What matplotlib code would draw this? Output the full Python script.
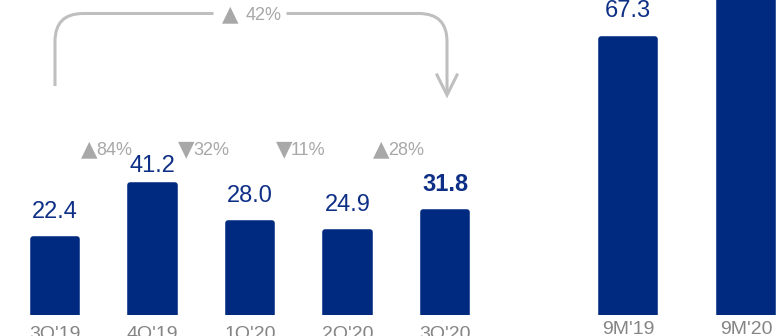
import numpy as np
import matplotlib
matplotlib.use('Agg')
import matplotlib.pyplot as plt
from matplotlib.path import Path
from matplotlib.patches import PathPatch

plt.rcParams['font.family'] = ['Liberation Sans', 'DejaVu Sans']

## 数据
quarters = ["3Q'19", "4Q'19", "1Q'20", "2Q'20", "3Q'20"]
q_values = [22.4, 41.2, 28.0, 24.9, 31.8]
q_changes = ['▲84%', '▼32%', '▼11%', '▲28%']
yoy_change = '▲42%'
periods = ["9M'19", "9M'20"]
p_values = [67.3, 84.7]

BLUE = '#002a80'
TXT_BLUE = '#0e2f86'
GRAY_PCT = '#a8a8a8'
GRAY_LBL = '#858585'
GRAY_ARROW = '#bfbfbf'

W, H = 780, 336
fig = plt.figure(figsize=(W / 100, H / 100), dpi=100)

def px_box(x0, y0_top, w, h):
    # 像素 -> figure fraction (y从顶部算)
    return [x0 / W, (H - y0_top - h) / H, w / W, h / H]

def pct_label(ax, x, y, s, tri_right, num_left, **kw):
    # 三角用DejaVu Sans画（更大），数字用Liberation Sans; 偏移单位为points
    ax.annotate(s[0], xy=(x, y), xytext=(tri_right, 0), textcoords='offset points',
                ha='right', va='baseline', fontsize=15.5, color=GRAY_PCT,
                family='DejaVu Sans', **kw)
    ax.annotate(s[1:], xy=(x, y), xytext=(num_left, 0), textcoords='offset points',
                ha='left', va='baseline', fontsize=13, color=GRAY_PCT, **kw)

### 左侧季度柱状图
ax1 = fig.add_axes(px_box(0, 0, 500, 315))
step = 97.5
x_left = (0 - 55) / step
ax1.set_xlim(x_left, x_left + 500 / step)
px_per_unit = 2.87
base = -4.08
ax1.set_ylim(base, base + 315 / px_per_unit)
ax1.axis('off')

x = np.arange(len(quarters))
vals = np.array(q_values)
# 描边+圆角连接模拟圆角柱
ax1.bar(x, vals - base, bottom=base, width=0.46, color=BLUE,
        edgecolor=BLUE, linewidth=4, joinstyle='round')

for i, v in enumerate(q_values):
    y = min(v + 7.3, 45.7)
    bold = i == len(q_values) - 1
    ax1.text(i, y, f'{v:.1f}', ha='center', va='baseline', fontsize=17,
             color=TXT_BLUE, fontweight='bold' if bold else 'normal')
    ax1.annotate(quarters[i], xy=(i, 0), xycoords=('data', 'axes fraction'),
                 xytext=(0, -17.3), textcoords='offset points',
                 ha='center', va='baseline', fontsize=14, color=GRAY_LBL,
                 annotation_clip=False)

for i, s in enumerate(q_changes):
    pct_label(ax1, i + 0.5, 51.5, s, -4.6, -5.6)

### 右侧9个月柱状图
ax2 = fig.add_axes(px_box(560, 0, 220, 315))
step2 = 118
x2_left = (560 - 628) / step2
ax2.set_xlim(x2_left, x2_left + 220 / step2)
ax2.set_ylim(0, 315 / 4.1)
ax2.axis('off')

x2 = np.arange(len(periods))
ax2.bar(x2, p_values, width=0.45, color=BLUE, edgecolor=BLUE,
        linewidth=4, joinstyle='round', clip_on=True)
for i, v in enumerate(p_values):
    ax2.text(i, v + 5.4, f'{v:.1f}', ha='center', va='baseline', fontsize=17,
             color=TXT_BLUE, clip_on=True)
    ax2.annotate(periods[i], xy=(i, 0), xycoords=('data', 'axes fraction'),
                 xytext=(0, -13.4), textcoords='offset points',
                 ha='center', va='baseline', fontsize=14, color=GRAY_LBL,
                 annotation_clip=False)

### 同比箭头 (像素坐标覆盖层)
ov = fig.add_axes([0, 0, 1, 1], zorder=5)
ov.set_xlim(0, W)
ov.set_ylim(H, 0)
ov.axis('off')
ov.patch.set_alpha(0)

xl, xr, yt, r = 55, 447, 13.5, 28
verts = [(xl, 86), (xl, yt + r), (xl, yt), (xl + r, yt), (xr - r, yt),
         (xr, yt), (xr, yt + r), (xr, 93)]
codes = [Path.MOVETO, Path.LINETO, Path.CURVE3, Path.CURVE3, Path.LINETO,
         Path.CURVE3, Path.CURVE3, Path.LINETO]
ov.add_patch(PathPatch(Path(verts, codes), fill=False, edgecolor=GRAY_ARROW,
                       linewidth=2.2, capstyle='butt'))
ov.plot([xr - 10, xr, xr + 10], [75, 95, 75], color=GRAY_ARROW,
        linewidth=2.2, solid_joinstyle='miter')
# 标签处留白
xm = (xl + xr) / 2
ov.plot([xm - 38, xm + 35], [yt, yt], color='white', linewidth=5,
        solid_capstyle='butt')
pct_label(ov, xm - 10, yt + 6.5, yoy_change, -2, 3)

plt.savefig('out.png', dpi=100)
